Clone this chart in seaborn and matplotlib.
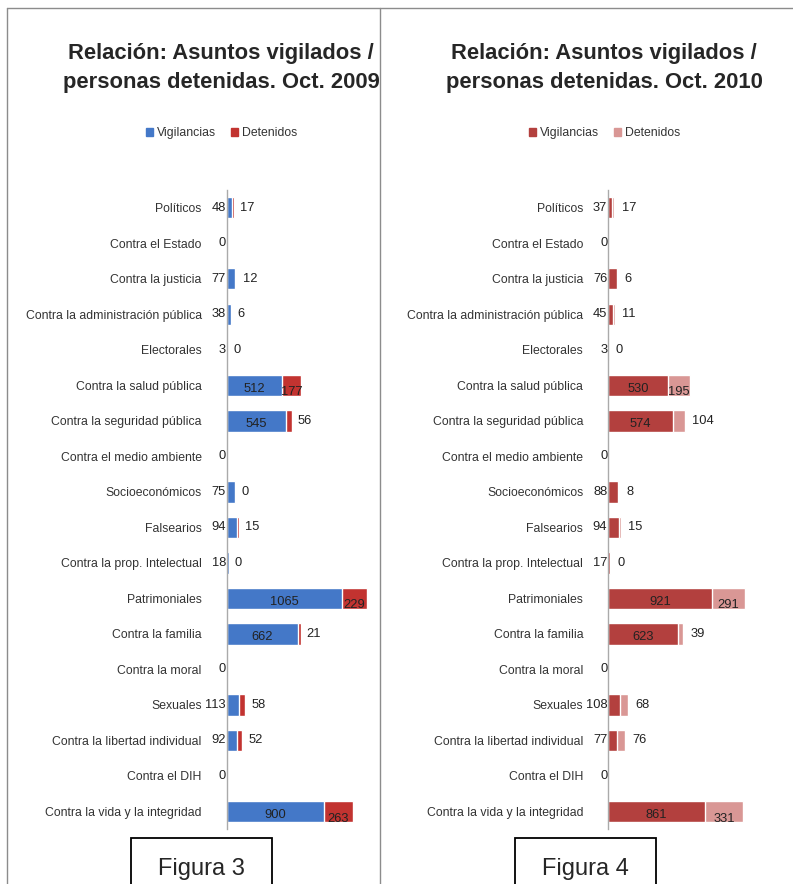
import numpy as np
import pandas as pd
import seaborn as sns
import matplotlib.pyplot as plt
from matplotlib.patches import Patch, Rectangle
from matplotlib.lines import Line2D

categorias = ['Políticos', 'Contra el Estado', 'Contra la justicia',
              'Contra la administración pública', 'Electorales',
              'Contra la salud pública', 'Contra la seguridad pública',
              'Contra el medio ambiente', 'Socioeconómicos', 'Falsearios',
              'Contra la prop. Intelectual', 'Patrimoniales', 'Contra la familia',
              'Contra la moral', 'Sexuales', 'Contra la libertad individual',
              'Contra el DIH', 'Contra la vida y la integridad']

vig_2009 = [48, 0, 77, 38, 3, 512, 545, 0, 75, 94, 18, 1065, 662, 0, 113, 92, 0, 900]
det_2009 = [17, 0, 12, 6, 0, 177, 56, 0, 0, 15, 0, 229, 21, 0, 58, 52, 0, 263]
vig_2010 = [37, 0, 76, 45, 3, 530, 574, 0, 88, 94, 17, 921, 623, 0, 108, 77, 0, 861]
det_2010 = [17, 0, 6, 11, 0, 195, 104, 0, 8, 15, 0, 291, 39, 0, 68, 76, 0, 331]

sns.set_style('white')
plt.rcParams['font.family'] = ['Liberation Sans', 'DejaVu Sans']

fig = plt.figure(figsize=(7.93, 8.84), dpi=100)


def panel(rect, vig, det, c_vig, c_det, xmax, titulo, fig_label, cx, box_x):
    df = pd.DataFrame({'cat': categorias, 'vig': vig, 'det': det})
    df['total'] = df['vig'] + df['det']
    ax = fig.add_axes(rect)
    # stacked bars: total drawn first, vigilancias on top
    sns.barplot(data=df, x='total', y='cat', orient='h', color=c_det,
                width=0.6, saturation=1, ax=ax)
    sns.barplot(data=df, x='vig', y='cat', orient='h', color=c_vig,
                width=0.6, saturation=1, ax=ax)
    ax.set_xlim(0, xmax)
    ax.set_ylim(len(categorias) - 0.5, -0.5)
    ax.set_xlabel('')
    ax.set_ylabel('')
    ax.set_xticks([])
    ax.tick_params(axis='y', length=0, pad=18, labelsize=8.8, labelcolor='#333333')
    for s in ['top', 'right', 'bottom']:
        ax.spines[s].set_visible(False)
    ax.spines['left'].set_color('#aaaaaa')
    ax.spines['left'].set_linewidth(1.0)

    fs = 9.3
    for i, (v, d) in enumerate(zip(vig, det)):
        if v == 0 and d == 0:
            ax.text(-xmax * 0.005, i, '0', ha='right', va='center', fontsize=fs, color='#222222')
            continue
        if v > 250:
            ax.text(v / 2, i + 0.1, str(v), ha='center', va='center', fontsize=fs, color='#222222')
        else:
            ax.text(-xmax * 0.005, i, str(v), ha='right', va='center', fontsize=fs, color='#222222')
        if d > 150:
            ax.text(v + d / 2, i + 0.2, str(d), ha='center', va='center', fontsize=fs, color='#222222')
        else:
            ax.text(v + d + xmax * 0.04, i, str(d), ha='left', va='center', fontsize=fs, color='#222222')

    fig.text(cx, 0.923, titulo, ha='center', va='center', fontsize=15.8,
             fontweight='bold', linespacing=1.5)
    fig.legend(handles=[Patch(color=c_vig, label='Vigilancias'),
                        Patch(color=c_det, label='Detenidos')],
               loc='center', bbox_to_anchor=(cx, 0.849), ncol=2, frameon=False,
               fontsize=8.8, handlelength=0.6, handleheight=0.6, handletextpad=0.3,
               columnspacing=1.2, labelcolor='#333333')
    fig.patches.append(Rectangle((box_x, -0.02), 141 / 793, 0.072,
                                 transform=fig.transFigure, fill=False,
                                 edgecolor='black', linewidth=1.3))
    fig.text(box_x + 70 / 793, 0.017, fig_label, ha='center', va='center', fontsize=17)
    return ax


panel([0.286, 0.062, 0.193, 0.723], vig_2009, det_2009, '#4478c8', '#c23330', 1415,
      'Relación: Asuntos vigilados /\npersonas detenidas. Oct. 2009', 'Figura 3',
      0.279, 131 / 793)
panel([0.767, 0.062, 0.233, 0.723], vig_2010, det_2010, '#b3403e', '#d99795', 1640,
      'Relación: Asuntos vigilados /\npersonas detenidas. Oct. 2010', 'Figura 4',
      0.762, 515 / 793)

# page borders
for line in [Line2D([7 / 793, 1], [1 - 8 / 884, 1 - 8 / 884]),
             Line2D([7 / 793, 7 / 793], [0, 1 - 8 / 884]),
             Line2D([380 / 793, 380 / 793], [0, 1 - 8 / 884])]:
    line.set_transform(fig.transFigure)
    line.set_color('#8c8c8c')
    line.set_linewidth(1.0)
    fig.lines.append(line)

fig.savefig('out.png', dpi=100)
